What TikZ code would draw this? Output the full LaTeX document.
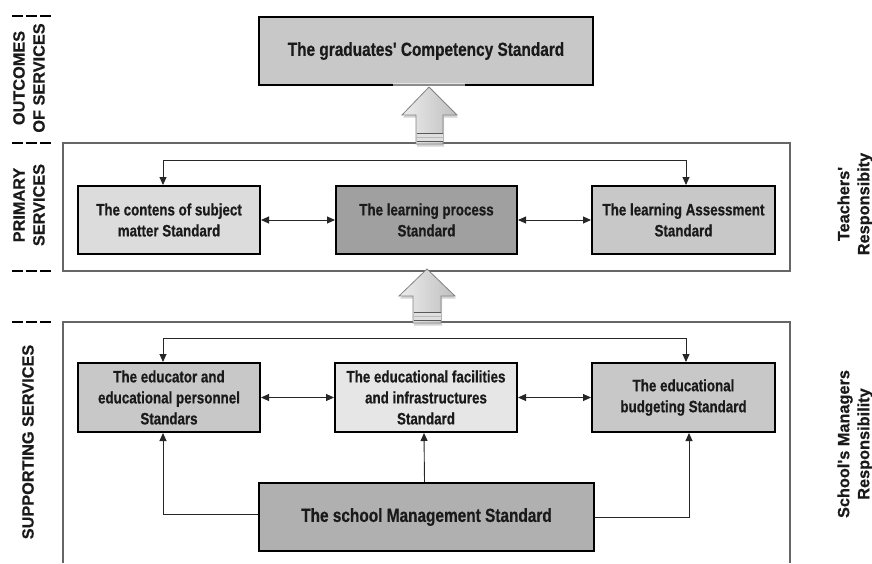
\documentclass[tikz,border=0pt]{standalone}
\usepackage{fontspec}
\setmainfont{Liberation Sans}[Ligatures=TeXOff, FakeBold=0.6]
\newfontfamily\narrowfont{Liberation Sans}[Ligatures=TeXOff, FakeStretch=0.81, FakeBold=0.6]
\usetikzlibrary{arrows.meta,shadows}
\definecolor{framegray}{HTML}{666666}
\definecolor{fillA}{HTML}{C8C8C8}
\definecolor{fillB}{HTML}{DCDCDC}
\definecolor{fillC}{HTML}{A0A0A0}
\definecolor{fillD}{HTML}{E6E6E6}
\definecolor{fillE}{HTML}{B0B0B0}
\definecolor{txt}{HTML}{1A1A1A}
\tikzset{
  stdbox/.style={draw=black, line width=2pt, align=center, inner sep=2pt,
    text=txt, font=\narrowfont\bfseries\fontsize{16.5}{21}\selectfont},
  bigbox/.style={stdbox, font=\narrowfont\bfseries\fontsize{19}{23}\selectfont},
  frame/.style={draw=framegray, line width=1.6pt},
  conn/.style={draw=black!85, line width=0.9pt, {Triangle[length=8pt,width=7pt]}-{Triangle[length=8pt,width=7pt]}},
  connend/.style={draw=black!85, line width=0.9pt, -{Triangle[length=8pt,width=7pt]}},
  sidelabel/.style={rotate=90, align=center, text=txt, font=\bfseries\fontsize{16.3}{20}\selectfont},
  sep/.style={line width=2.6pt, dash pattern=on 11pt off 3pt},
  blockarrow/.style={draw=gray!60!black!70, line width=0.8pt, left color=gray!15, right color=gray!50,
    drop shadow={shadow xshift=1pt, shadow yshift=-2.5pt, opacity=0.35}}
}
\begin{document}
\begin{tikzpicture}[x=1pt,y=-1pt]
\useasboundingbox (0,0) rectangle (872,563);
% frames
\draw[frame] (63,143) rectangle (790,271);
\draw[frame] (63,563) -- (63,322) -- (790,322) -- (790,563);
% left separators
\foreach \yy in {16,143,271,322} \draw[sep] (12,\yy) -- (53,\yy);
% side labels
\node[sidelabel] (lout) at (29,78) {OUTCOMES\\OF SERVICES};
\node[sidelabel] (lprim) at (29,205) {PRIMARY\\SERVICES};
\node[sidelabel] (lsup) at (28,442) {SUPPORTING SERVICES};
\node[sidelabel] (rteach) at (855,204) {Teachers'\\Responsibity};
\node[sidelabel] (rman) at (855,444) {School's Managers\\Responsibility};
% boxes
\node[bigbox, fill=fillA, minimum width=334pt, minimum height=68pt] (top) at (426,51) {The graduates' Competency Standard};
\node[stdbox, fill=fillB, minimum width=182pt, minimum height=68pt] (pleft) at (169,220) {The contens of subject\\matter Standard};
\node[stdbox, fill=fillC, minimum width=181pt, minimum height=68pt] (pmid) at (426.5,220) {The learning process\\Standard};
\node[stdbox, fill=fillA, minimum width=183pt, minimum height=68pt] (pright) at (683.5,220) {The learning Assessment\\Standard};
\node[stdbox, fill=fillA, minimum width=182pt, minimum height=69pt] (sleft) at (169,397.5) {The educator and\\educational personnel\\Standars};
\node[stdbox, fill=fillD, minimum width=182pt, minimum height=69pt] (smid) at (426,397.5) {The educational facilities\\and infrastructures\\Standard};
\node[stdbox, fill=fillA, minimum width=183pt, minimum height=69pt] (sright) at (683.5,397.5) {The educational\\budgeting Standard};
\node[bigbox, fill=fillE, minimum width=335pt, minimum height=68pt] (mgmt) at (426.5,517) {The school Management Standard};
% primary connectors
\draw[conn] ([xshift=-6pt]pleft.north) -- ++(0,-25) -| ([xshift=2.5pt]pright.north);
\draw[conn] (pleft.east) -- (pmid.west);
\draw[conn] (pmid.east) -- (pright.west);
% supporting connectors
\draw[conn] ([xshift=-6pt]sleft.north) -- ++(0,-24) -| ([xshift=2.5pt]sright.north);
\draw[conn] (sleft.east) -- (smid.west);
\draw[conn] (smid.east) -- (sright.west);
\draw[connend] ([yshift=3pt]mgmt.west) -| ([xshift=-6pt]sleft.south);
\draw[connend] ([xshift=-2pt]mgmt.north) -- ([xshift=-2pt]smid.south);
\draw[connend] (mgmt.east) -| ([xshift=5.5pt]sright.south);
% block arrows
\path[blockarrow] (429,87) -- (457,115) -- (443,115) -- (443,144) -- (416,144) -- (416,115) -- (402,115) -- cycle;
\fill[gray!25] (416.5,133) rectangle (442.5,141);
\draw[gray!70!black, line width=0.9pt] (416.5,133) -- (442.5,133);
\draw[gray!70!black, line width=0.9pt] (416.5,141) -- (442.5,141);
\draw[gray!55, line width=0.6pt] (416.5,137) -- (442.5,137);
\path[blockarrow] (427,269) -- (455,296) -- (441,296) -- (441,323) -- (413,323) -- (413,296) -- (399,296) -- cycle;
\fill[gray!25] (413.5,312) rectangle (440.5,320);
\draw[gray!70!black, line width=0.9pt] (413.5,312) -- (440.5,312);
\draw[gray!70!black, line width=0.9pt] (413.5,320) -- (440.5,320);
\draw[gray!55, line width=0.6pt] (413.5,316) -- (440.5,316);
% glow on lines near arrows
\fill[white, opacity=0.55] (393,83) rectangle (465,87);
\end{tikzpicture}
\end{document}
